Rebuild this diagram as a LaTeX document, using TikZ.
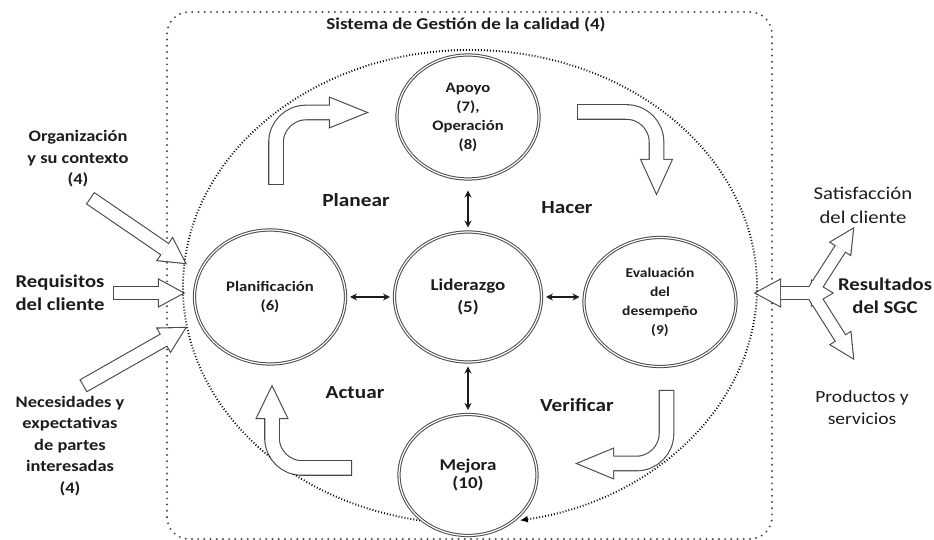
\documentclass[tikz,border=0pt]{standalone}
\usepackage{fontspec}
\setmainfont{Carlito}[FakeStretch=1.15]
\usetikzlibrary{arrows.meta, positioning, shapes.geometric, calc}

\definecolor{gris}{HTML}{4A4A4A}
\definecolor{tinta}{HTML}{1C1C1C}

\pgfdeclarelayer{fondo}
\pgfsetlayers{fondo,main}

% hollow block arrow: #2 = shaft path, #3 = closed head path
\newcommand{\flecha}[3][13pt]{%
  \begin{pgfonlayer}{fondo}
    \draw[gris, line width=#1+2.2pt, rounded corners=30pt] #2;
    \filldraw[gris, line width=2.2pt] #3;
  \end{pgfonlayer}
  \draw[white, line width=#1, rounded corners=30pt, shorten <=1.1pt] #2;
  \fill[white] #3;
}
% straight block arrow: #2 tail, #3 tip, #4 head length, #5 head half width
\newcommand{\flecharecta}[5][12pt]{%
  \path ($(#3)!#4!(#2)$) coordinate (fb);
  \flecha[#1]{(#2) -- (fb)}{($(fb)!#5!90:(#3)$) -- (#3) -- ($(fb)!#5!-90:(#3)$) -- cycle}
}

\tikzset{
  x=1pt, y=1pt,
  circulo/.style={ellipse, draw=gris, double, double distance=1.2pt,
    line width=1pt, inner sep=0pt, align=center, text=tinta,
    font=\fontsize{14.5}{19}\selectfont\bfseries},
  titulo/.style={text=tinta, font=\fontsize{16.5}{19}\selectfont\bfseries},
  fase/.style={text=tinta, font=\fontsize{18.5}{22}\selectfont\bfseries},
  entrada/.style={align=center, text=tinta,
    font=\fontsize{16}{21.5}\selectfont\bfseries},
  salida/.style={align=center, text=tinta, font=\fontsize{18}{24}\selectfont},
  enlace/.style={{Stealth[length=7pt,width=7pt]}-{Stealth[length=7pt,width=7pt]},
    line width=1.7pt, tinta, shorten <=4pt, shorten >=4pt},
  ciclo/.style={draw=black, line width=1.9pt,
    dash pattern=on 0.9pt off 2.1pt},
  marco/.style={draw=gris, line width=2.2pt,
    dash pattern=on 0pt off 6.2pt, line cap=round, rounded corners=22pt},
}

\begin{document}
\begin{tikzpicture}
  \useasboundingbox (0,0) rectangle (934,540);

  % outer frame and PDCA loop
  \draw[marco] (167,1) rectangle (772,528);
  \node[titulo] (sistema) at (466,515) {Sistema de Gestión de la calidad (4)};
  \coordinate (centro) at (470,253);
  \draw[ciclo, -{Latex[length=8pt,width=7pt]}] (centro) ++(260:287 and 237)
    arc[start angle=260, end angle=-80, x radius=287, y radius=237];

  % process circles
  \node[circulo, minimum width=142pt, minimum height=124pt] (apoyo) at (468,423)
    {Apoyo\\(7),\\Operación\\(8)};
  \node[circulo, minimum width=147pt, minimum height=130pt,
    font=\fontsize{16.5}{22}\selectfont\bfseries] (lider) at (468,243) {Liderazgo\\(5)};
  \node[circulo, minimum width=151pt, minimum height=134pt] (planif) at (270,243)
    {Planificación\\(6)};
  \node[circulo, minimum width=152pt, minimum height=129pt,
    font=\fontsize{13.5}{19}\selectfont\bfseries] (evalua) at (660,238)
    {Evaluación\\del\\desempeño\\(9)};
  \node[circulo, minimum width=138pt, minimum height=121pt,
    font=\fontsize{16.5}{18.5}\selectfont\bfseries] (mejora) at (468,65) {Mejora\\(10)};

  \draw[enlace, shorten <=11pt] (apoyo) -- (lider);
  \draw[enlace] (lider) -- (planif);
  \draw[enlace] (lider.east) -- (lider.east -| evalua.west);
  \draw[enlace] (lider) -- (mejora);

  % PDCA phases
  \node[fase] (planear) at (356,340) {Planear};
  \node[fase] (hacer) at (567,332) {Hacer};
  \node[fase] (actuar) at (355,147) {Actuar};
  \node[fase] (verificar) at (577,135) {Verificar};

  \flecha[13.5pt]{(276,355) |- (330,427.5)}{(330,442) -- (366,427.5) -- (330,413) -- cycle}
  \flecha[13.5pt]{(577,428) -| (656.5,380)}{(641.5,380) -- (656.5,347) -- (671.5,380) -- cycle}
  \flecha[13.5pt]{(666.5,150) |- (613,76.5)}{(613,91) -- (578,76.5) -- (613,62) -- cycle}
  \flecha[13.5pt]{(352,72) -| (272,122)}{(257,122) -- (272,153) -- (287,122) -- cycle}

  % inputs
  \node[entrada] (org) at (78,381) {Organización\\y su contexto\\(4)};
  \node[entrada, font=\fontsize{18}{23}\selectfont\bfseries] (req) at (60,247)
    {Requisitos\\del cliente};
  \node[entrada] (nec) at (70,94)
    {Necesidades y\\expectativas\\de partes\\interesadas\\(4)};
  \coordinate (org-a) at (90,342);
  \coordinate (org-b) at (185,277);
  \coordinate (req-a) at (113,247);
  \coordinate (req-b) at (183,247);
  \coordinate (nec-a) at (83,154);
  \coordinate (nec-b) at (185,212);
  \flecharecta[12.5pt]{org-a}{org-b}{24pt}{13pt}
  \flecharecta[12.5pt]{req-a}{req-b}{24pt}{13pt}
  \flecharecta[12.5pt]{nec-a}{nec-b}{24pt}{13pt}

  % outputs
  \node[salida] (satis) at (863,335) {Satisfacción\\del cliente};
  \node[salida, font=\fontsize{18}{23}\selectfont\bfseries] (result) at (885,244)
    {Resultados\\del SGC};
  \node[salida, font=\fontsize{17}{22}\selectfont] (prod) at (862,132)
    {Productos y\\servicios};
  \coordinate (sal) at (756,247);
  \coordinate (nudo) at (812,247);
  \coordinate (satis-b) at (853,311);
  \coordinate (prod-b) at (853,182);
  \flecha[11.5pt]{(780,247) -- (nudo)}{(780,260) -- (sal) -- (780,234) -- cycle
    (812,259) -- (832,247) -- (812,235) -- cycle}
  \flecharecta[11pt]{nudo}{satis-b}{23pt}{11.5pt}
  \flecharecta[11pt]{nudo}{prod-b}{23pt}{11.5pt}
\end{tikzpicture}
\end{document}
